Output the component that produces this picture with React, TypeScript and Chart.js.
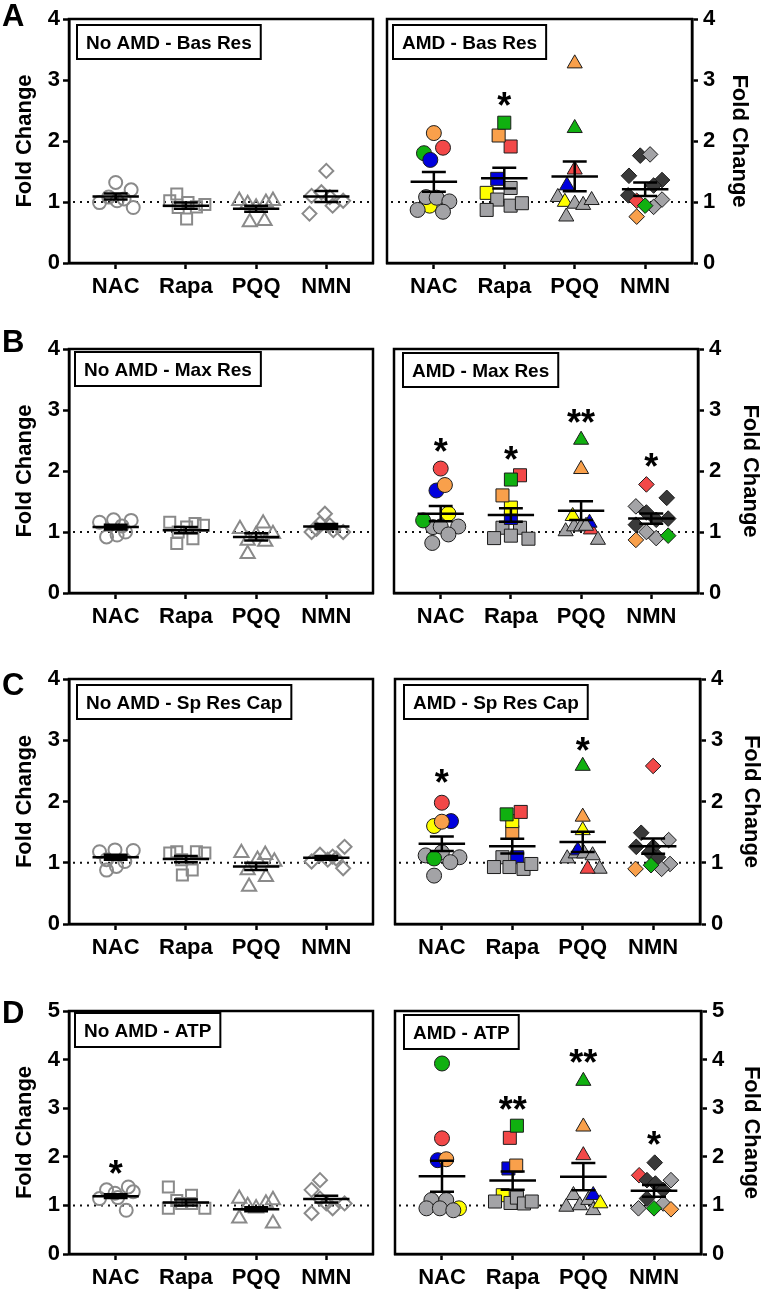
import React, { useEffect, useRef } from 'react';
import { Chart, registerables } from 'chart.js';
Chart.register(...registerables);

const FONT = '"Liberation Sans", Arial, Helvetica, sans-serif';

const categories = ['NAC', 'Rapa', 'PQQ', 'NMN'];
const markerStyles = ['circle', 'rect', 'triangle', 'rectRot'];
const yTitle = 'Fold Change';

// colour codes for AMD donors: O orange, R red, G green, B blue, Y yellow, S grey, K dark grey
const palette: Record<string, string> = {
  O: '#F9A04B', R: '#F24848', G: '#10B010', B: '#0000DD', Y: '#FFFF00', S: '#A3A3A6', K: '#3A3A3A',
};

// ---------- A : Basal respiration ----------
const basNoValues = [
  [0.99, 1.08, 1.32, 1.02, 1.05, 1.20, 0.91],
  [1.02, 1.13, 0.91, 0.72, 0.99, 0.92, 0.96],
  [1.02, 0.67, 0.97, 0.91, 0.69, 0.99, 1.02],
  [1.51, 1.10, 0.81, 1.16, 0.94, 1.02, 1.08],
];
const basNoJitter = [
  [-0.23, -0.10, 0.00, 0.02, 0.12, 0.22, 0.25],
  [-0.23, -0.13, -0.11, 0.01, 0.03, 0.15, 0.27],
  [-0.24, -0.09, -0.12, 0.00, 0.12, 0.14, 0.24],
  [0.00, -0.21, -0.24, -0.07, 0.09, 0.24, 0.05],
];
const basNoMean = [1.09, 0.94, 0.89, 1.09];
const basNoSem = [0.05, 0.05, 0.05, 0.09];
const basNoStars = ['', '', '', ''];
const basNoStarY = [0, 0, 0, 0];

const basAmdValues = [
  [0.94, 0.87, 1.08, 1.07, 1.01, 0.84, 1.80, 1.69, 1.89, 2.13],
  [1.23, 1.15, 1.38, 1.04, 0.87, 0.94, 0.98, 1.91, 2.09, 2.30],
  [1.08, 1.00, 0.76, 0.97, 0.95, 1.03, 1.27, 1.53, 2.21, 3.27],
  [1.76, 1.78, 1.43, 1.36, 1.27, 1.11, 1.04, 0.92, 1.02, 0.94, 0.76],
];
const basAmdJitter = [
  [-0.06, -0.23, -0.11, 0.04, 0.22, 0.13, -0.14, -0.05, 0.13, 0.00],
  [0.09, -0.25, -0.10, -0.10, -0.25, 0.09, 0.25, 0.09, -0.08, 0.00],
  [-0.24, -0.14, -0.12, 0.00, 0.12, 0.24, -0.11, 0.00, 0.00, 0.00],
  [-0.07, 0.07, -0.23, 0.24, 0.12, -0.24, 0.24, 0.12, -0.12, 0.00, -0.12],
];
const basAmdColors = ['YSSSSSGBRO', 'SYBSSSSROG', 'SYSSSSBRGO', 'KSKKKKSSRGO'];
const basAmdMean = [1.33, 1.39, 1.42, 1.21];
const basAmdSem = [0.16, 0.17, 0.245, 0.11];
const basAmdStars = ['', '*', '', ''];
const basAmdStarY = [0, 2.71, 0, 0];

// ---------- B : Maximal respiration ----------
const maxNoValues = [
  [1.16, 0.92, 1.20, 0.95, 1.10, 1.19, 1.00],
  [1.16, 0.81, 1.00, 1.08, 0.89, 1.14, 1.11],
  [1.05, 0.64, 0.86, 0.95, 1.14, 0.84, 0.97],
  [1.30, 1.00, 1.14, 1.11, 1.03, 1.00, 1.05],
];
const maxNoJitter = [
  [-0.23, -0.13, -0.03, 0.02, 0.09, 0.22, 0.14],
  [-0.23, -0.13, -0.11, 0.01, 0.10, 0.13, 0.25],
  [-0.23, -0.12, -0.12, 0.00, 0.10, 0.13, 0.24],
  [-0.02, -0.21, -0.09, 0.05, 0.10, 0.24, -0.14],
];
const maxNoMean = [1.08, 1.03, 0.92, 1.09];
const maxNoSem = [0.04, 0.05, 0.06, 0.04];
const maxNoStars = ['', '', '', ''];
const maxNoStarY = [0, 0, 0, 0];

const maxAmdValues = [
  [1.08, 1.09, 1.09, 0.96, 0.82, 1.19, 1.30, 1.68, 1.77, 2.04],
  [1.07, 1.07, 1.23, 1.40, 0.90, 0.94, 0.89, 1.60, 1.93, 1.86],
  [1.01, 1.09, 1.09, 1.04, 1.15, 0.87, 1.10, 1.26, 2.03, 2.51],
  [1.42, 1.32, 1.20, 1.22, 1.12, 1.56, 1.78, 1.00, 0.90, 0.87, 0.94],
];
const maxAmdJitter = [
  [-0.11, 0.00, 0.25, 0.11, -0.12, -0.25, 0.11, -0.06, 0.06, 0.00],
  [-0.12, 0.13, 0.00, 0.00, -0.24, 0.00, 0.25, -0.12, 0.13, 0.00],
  [-0.22, -0.10, 0.00, 0.14, 0.12, 0.24, 0.07, -0.12, 0.00, 0.00],
  [-0.22, -0.07, 0.07, 0.24, -0.22, 0.22, -0.07, -0.07, 0.07, -0.22, 0.24],
];
const maxAmdColors = ['SSSSSGYBOR', 'SSBYSSSORG', 'SSSRBSSYOG', 'SKKKKKRSSOG'];
const maxAmdMean = [1.30, 1.28, 1.35, 1.22];
const maxAmdSem = [0.125, 0.11, 0.155, 0.085];
const maxAmdStars = ['*', '*', '**', '*'];
const maxAmdStarY = [2.45, 2.31, 2.92, 2.19];

// ---------- C : Spare respiratory capacity ----------
const sprNoValues = [
  [1.18, 1.05, 0.88, 1.21, 0.94, 1.02, 1.20],
  [1.16, 1.18, 0.80, 1.05, 0.88, 1.18, 1.16],
  [1.16, 0.61, 0.88, 1.05, 1.13, 0.77, 1.02],
  [1.02, 1.13, 1.05, 1.07, 1.26, 0.91, 1.10],
];
const sprNoJitter = [
  [-0.23, -0.13, -0.13, -0.01, 0.01, 0.13, 0.25],
  [-0.23, -0.13, -0.05, -0.06, 0.09, 0.15, 0.27],
  [-0.21, -0.10, -0.12, 0.02, 0.13, 0.14, 0.26],
  [-0.21, -0.09, 0.02, 0.14, 0.26, 0.24, 0.09],
];
const sprNoMean = [1.09, 1.06, 0.94, 1.08];
const sprNoSem = [0.04, 0.05, 0.06, 0.03];
const sprNoStars = ['', '', '', ''];
const sprNoStarY = [0, 0, 0, 0];

const sprAmdValues = [
  [1.12, 1.17, 1.09, 1.01, 0.79, 1.07, 1.60, 1.68, 1.67, 1.98],
  [1.09, 1.09, 0.93, 0.93, 0.90, 0.98, 1.50, 1.68, 1.79, 1.83],
  [1.07, 1.15, 1.20, 1.15, 1.12, 0.90, 0.90, 1.53, 1.75, 2.58],
  [1.49, 1.26, 1.26, 1.17, 1.09, 1.37, 0.98, 0.90, 0.90, 0.96, 2.58],
];
const sprAmdJitter = [
  [-0.23, 0.00, 0.25, 0.12, -0.11, -0.11, -0.11, 0.13, 0.00, 0.00],
  [-0.14, 0.07, -0.26, -0.04, 0.16, 0.27, 0.00, 0.00, -0.08, 0.12],
  [-0.22, -0.10, -0.07, 0.02, 0.14, 0.24, 0.07, 0.00, 0.00, 0.00],
  [-0.17, -0.24, 0.00, -0.05, 0.07, 0.22, 0.24, 0.12, -0.25, -0.03, 0.00],
];
const sprAmdColors = ['SSSSSGYBOR', 'SBSSSSOYGR', 'SSBSSSRYOG', 'KKKKKSSSOGR'];
const sprAmdMean = [1.31, 1.27, 1.34, 1.27];
const sprAmdSem = [0.12, 0.12, 0.165, 0.125];
const sprAmdStars = ['*', '', '*', ''];
const sprAmdStarY = [2.43, 0, 2.96, 0];

// ---------- D : ATP production ----------
const atpNoValues = [
  [1.14, 1.32, 1.25, 1.38, 1.28, 0.90, 1.16],
  [1.38, 0.94, 1.10, 1.04, 1.21, 1.04, 0.94],
  [1.14, 0.73, 0.99, 0.94, 1.04, 1.11, 0.63],
  [1.52, 1.32, 0.84, 1.04, 0.94, 1.04, 1.14],
];
const atpNoJitter = [
  [-0.23, -0.13, -0.01, 0.18, 0.25, 0.15, 0.03],
  [-0.25, -0.25, -0.13, -0.06, 0.08, 0.08, 0.27],
  [-0.24, -0.24, -0.12, 0.00, 0.14, 0.24, 0.24],
  [-0.09, -0.21, -0.21, 0.00, 0.09, 0.26, -0.09],
];
const atpNoMean = [1.19, 1.06, 0.92, 1.13];
const atpNoSem = [0.04, 0.06, 0.04, 0.07];
const atpNoStars = ['*', '', '', ''];
const atpNoStarY = [1.81, 0, 0, 0];

const atpAmdValues = [
  [0.94, 1.11, 1.11, 0.94, 0.94, 0.90, 1.93, 1.95, 2.38, 3.92],
  [1.21, 1.08, 1.05, 1.16, 1.04, 1.08, 1.76, 1.82, 2.39, 2.64],
  [1.21, 0.97, 1.00, 1.11, 1.21, 0.90, 1.04, 2.03, 2.62, 3.56],
  [1.62, 1.52, 1.88, 1.45, 1.14, 1.32, 1.52, 1.04, 0.94, 0.94, 0.92],
];
const atpAmdJitter = [
  [0.24, -0.15, 0.06, -0.22, -0.03, 0.16, -0.06, 0.06, 0.00, 0.00],
  [-0.14, -0.25, -0.03, 0.06, 0.16, 0.27, -0.06, 0.05, -0.04, 0.06],
  [-0.14, -0.24, -0.05, 0.07, 0.14, 0.14, 0.24, 0.00, 0.00, 0.00],
  [-0.21, -0.10, 0.01, 0.02, -0.10, 0.13, 0.24, 0.13, -0.22, 0.00, 0.24],
];
const atpAmdColors = ['YSSSSSBORG', 'YSSSSSBORG', 'SSSSBSYROG', 'RKKKKKSSSGO'];
const atpAmdMean = [1.60, 1.51, 1.59, 1.30];
const atpAmdSem = [0.32, 0.19, 0.28, 0.12];
const atpAmdStars = ['', '**', '**', '*'];
const atpAmdStarY = [0, 3.13, 4.09, 2.40];

// ---------- panel layout ----------
const panels = [
  { side: 'left', L: 69, T: 19, R: 373, B: 263, yMax: 4, label: 'No AMD - Bas Res', box: [8, 6], letter: 'A', letterBase: 26,
    values: basNoValues, jitter: basNoJitter, colors: null, mean: basNoMean, sem: basNoSem, stars: basNoStars, starY: basNoStarY },
  { side: 'right', L: 387, T: 19, R: 692, B: 263, yMax: 4, label: 'AMD - Bas Res', box: [6, 6], titleCenter: 739,
    values: basAmdValues, jitter: basAmdJitter, colors: basAmdColors, mean: basAmdMean, sem: basAmdSem, stars: basAmdStars, starY: basAmdStarY },
  { side: 'left', L: 69, T: 349, R: 373, B: 593, yMax: 4, label: 'No AMD - Max Res', box: [6, 3], letter: 'B', letterBase: 352,
    values: maxNoValues, jitter: maxNoJitter, colors: null, mean: maxNoMean, sem: maxNoSem, stars: maxNoStars, starY: maxNoStarY },
  { side: 'right', L: 394, T: 349, R: 698, B: 593, yMax: 4, label: 'AMD - Max Res', box: [9, 4], titleCenter: 750,
    values: maxAmdValues, jitter: maxAmdJitter, colors: maxAmdColors, mean: maxAmdMean, sem: maxAmdSem, stars: maxAmdStars, starY: maxAmdStarY },
  { side: 'left', L: 69, T: 679, R: 373, B: 924, yMax: 4, label: 'No AMD - Sp Res Cap', box: [8, 6], letter: 'C', letterBase: 695,
    values: sprNoValues, jitter: sprNoJitter, colors: null, mean: sprNoMean, sem: sprNoSem, stars: sprNoStars, starY: sprNoStarY },
  { side: 'right', L: 395, T: 679, R: 700, B: 924, yMax: 4, label: 'AMD - Sp Res Cap', box: [9, 6], titleCenter: 751,
    values: sprAmdValues, jitter: sprAmdJitter, colors: sprAmdColors, mean: sprAmdMean, sem: sprAmdSem, stars: sprAmdStars, starY: sprAmdStarY },
  { side: 'left', L: 69, T: 1011, R: 373, B: 1254, yMax: 5, label: 'No AMD - ATP', box: [6, 2], letter: 'D', letterBase: 1023,
    values: atpNoValues, jitter: atpNoJitter, colors: null, mean: atpNoMean, sem: atpNoSem, stars: atpNoStars, starY: atpNoStarY },
  { side: 'right', L: 395, T: 1011, R: 701, B: 1254, yMax: 5, label: 'AMD - ATP', box: [9, 4], titleCenter: 751,
    values: atpAmdValues, jitter: atpAmdJitter, colors: atpAmdColors, mean: atpAmdMean, sem: atpAmdSem, stars: atpAmdStars, starY: atpAmdStarY },
];

const amdRadius = [7.5, 9.2, 8.7, 7.8];
const noRadius = [6.5, 7.8, 8.2, 7.0];

function makeDecor(cfg: any, canvasTop: number) {
  return {
    id: 'panelDecor',
    beforeDatasetsDraw(chart: any) {
      const { ctx, chartArea, scales } = chart;
      const y1 = scales.y.getPixelForValue(1);
      ctx.save();
      ctx.strokeStyle = '#111';
      ctx.lineWidth = 2;
      ctx.setLineDash([2, 5]);
      ctx.beginPath();
      ctx.moveTo(chartArea.left + 4, y1);
      ctx.lineTo(chartArea.right, y1);
      ctx.stroke();
      ctx.restore();
    },
    afterDatasetsDraw(chart: any) {
      const { ctx, scales } = chart;
      const xs = scales.x, ys = scales.y;
      ctx.save();
      ctx.strokeStyle = '#000';
      ctx.lineWidth = 2.5;
      cfg.mean.forEach((m: number, i: number) => {
        const s = cfg.sem[i];
        const ym = ys.getPixelForValue(m);
        const yt = ys.getPixelForValue(m + s);
        const yb = ys.getPixelForValue(m - s);
        ctx.beginPath();
        ctx.moveTo(xs.getPixelForValue(i - 0.33), ym);
        ctx.lineTo(xs.getPixelForValue(i + 0.33), ym);
        ctx.moveTo(xs.getPixelForValue(i), yt);
        ctx.lineTo(xs.getPixelForValue(i), yb);
        ctx.moveTo(xs.getPixelForValue(i - 0.17), yt);
        ctx.lineTo(xs.getPixelForValue(i + 0.17), yt);
        ctx.moveTo(xs.getPixelForValue(i - 0.17), yb);
        ctx.lineTo(xs.getPixelForValue(i + 0.17), yb);
        ctx.stroke();
      });
      ctx.restore();
    },
    afterDraw(chart: any) {
      const { ctx, chartArea, scales } = chart;
      ctx.save();
      // frame
      ctx.strokeStyle = '#000';
      ctx.lineWidth = 2.5;
      ctx.strokeRect(chartArea.left, chartArea.top, chartArea.right - chartArea.left, chartArea.bottom - chartArea.top);
      // label box
      ctx.font = `bold 19px ${FONT}`;
      const tw = ctx.measureText(cfg.label).width;
      const bx = chartArea.left + cfg.box[0];
      const by = chartArea.top + cfg.box[1];
      const bw = tw + 18;
      const bh = 34;
      ctx.fillStyle = '#fff';
      ctx.fillRect(bx, by, bw, bh);
      ctx.lineWidth = 2;
      ctx.strokeRect(bx, by, bw, bh);
      ctx.fillStyle = '#000';
      ctx.textAlign = 'left';
      ctx.textBaseline = 'alphabetic';
      ctx.fillText(cfg.label, bx + 9, by + 24);
      // significance stars
      ctx.font = `bold 36px ${FONT}`;
      ctx.textAlign = 'center';
      cfg.stars.forEach((st: string, i: number) => {
        if (!st) return;
        const x = scales.x.getPixelForValue(i);
        const y = scales.y.getPixelForValue(cfg.starY[i]);
        ctx.fillText(st, x, y + 20);
      });
      // panel letter
      if (cfg.letter) {
        ctx.font = `bold 31px ${FONT}`;
        ctx.textAlign = 'left';
        ctx.fillText(cfg.letter, 2, cfg.letterBase - canvasTop);
      }
      ctx.restore();
    },
  };
}

function buildConfig(cfg: any, canvasTop: number, canvasLeft: number, canvasWidth: number) {
  const amd = !!cfg.colors;
  const datasets = cfg.values.map((vals: number[], ci: number) => ({
    type: 'scatter',
    data: vals.map((v, k) => ({ x: ci + cfg.jitter[ci][k], y: v })),
    pointStyle: markerStyles[ci],
    pointRadius: amd ? amdRadius[ci] : noRadius[ci],
    pointBackgroundColor: amd ? cfg.colors[ci].split('').map((c: string) => palette[c]) : 'rgba(0,0,0,0)',
    pointBorderColor: amd ? '#1c1c1c' : '#8a8a8a',
    pointBorderWidth: amd ? 1 : 2,
    showLine: false,
    clip: false,
  }));
  const isLeft = cfg.side === 'left';
  const padL = isLeft ? 0 : cfg.L - canvasLeft;
  const padR = isLeft ? canvasLeft + canvasWidth - cfg.R : 0;
  const yWidth = isLeft ? cfg.L - canvasLeft : canvasLeft + canvasWidth - cfg.R;
  const titlePad = isLeft ? 25 - 13.2 : canvasLeft + canvasWidth - cfg.titleCenter - 13.2;
  const axisFontTick = { family: FONT, size: 22, weight: 'bold' as const, lineHeight: 1.2 };
  return {
    type: 'scatter' as const,
    data: { datasets },
    options: {
      animation: false,
      responsive: false,
      events: [],
      layout: { padding: { left: padL, right: padR, top: 25, bottom: 0 }, autoPadding: false },
      plugins: { legend: { display: false }, tooltip: { enabled: false } },
      scales: {
        x: {
          type: 'linear',
          min: -0.665,
          max: 3.665,
          afterBuildTicks: (s: any) => { s.ticks = categories.map((_, i) => ({ value: i })); },
          afterFit: (s: any) => { s.height = 60; },
          ticks: {
            callback: (v: any) => categories[v] ?? '',
            font: axisFontTick,
            color: '#000',
            padding: 5,
            autoSkip: false,
            maxRotation: 0,
          },
          grid: { drawOnChartArea: false, drawTicks: true, tickLength: 6, tickWidth: 2.5, tickColor: '#000' },
          border: { display: true, color: '#000', width: 2.5 },
        },
        y: {
          type: 'linear',
          position: isLeft ? 'left' : 'right',
          min: 0,
          max: cfg.yMax,
          afterFit: (s: any) => { s.width = yWidth; },
          ticks: { stepSize: 1, font: axisFontTick, color: '#000', padding: isLeft ? 3 : 5 },
          grid: { drawOnChartArea: false, drawTicks: true, tickLength: 6, tickWidth: 2.5, tickColor: '#000' },
          border: { display: true, color: '#000', width: 2.5 },
          title: {
            display: true,
            text: yTitle,
            color: '#000',
            font: { family: FONT, size: 22, weight: 'bold' as const, lineHeight: 1.2 },
            padding: { top: titlePad, bottom: 0 },
          },
        },
      },
    },
    plugins: [makeDecor(cfg, canvasTop)],
  };
}

function Panel({ cfg }: { cfg: any }) {
  const ref = useRef<HTMLCanvasElement>(null);
  const isLeft = cfg.side === 'left';
  const left = isLeft ? 0 : 380;
  const width = isLeft ? 380 : 391;
  const top = cfg.T - 25;
  const height = cfg.B - cfg.T + 85;
  useEffect(() => {
    const chart = new Chart(ref.current as HTMLCanvasElement, buildConfig(cfg, top, left, width) as any);
    return () => chart.destroy();
  }, []);
  return (
    <canvas
      ref={ref}
      width={width}
      height={height}
      style={{ position: 'absolute', left, top, width, height }}
    />
  );
}

export default function App() {
  return (
    <div style={{ position: 'absolute', left: 0, top: 0, width: 761, height: 1292, overflow: 'hidden', background: '#fff' }}>
      {panels.map((p, i) => (
        <Panel key={i} cfg={p} />
      ))}
    </div>
  );
}
